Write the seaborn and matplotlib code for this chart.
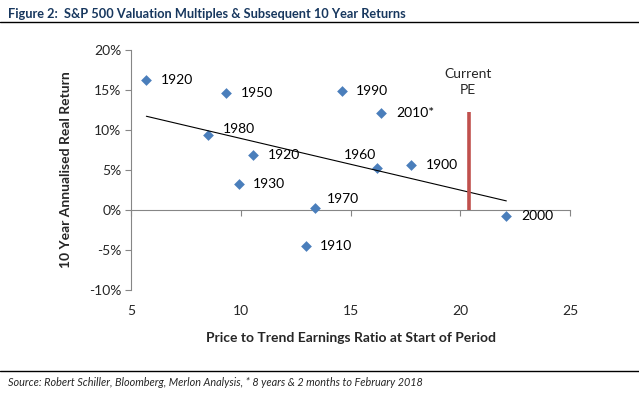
import numpy as np
import matplotlib
matplotlib.use("Agg")
import matplotlib.pyplot as plt
import seaborn as sns
from matplotlib.lines import Line2D
from matplotlib.ticker import FuncFormatter

# data
years = ["1920", "1950", "1980", "1920", "1930", "1970", "1910",
         "1990", "2010*", "1960", "1900", "2000"]
pe = [5.7, 9.35, 8.5, 10.55, 9.9, 13.4, 12.95, 14.6, 16.4, 16.2, 17.75, 22.1]
ret = [16.3, 14.6, 9.4, 6.9, 3.2, 0.3, -4.5, 14.9, 12.1, 5.2, 5.6, -0.8]
current_pe = 20.4
current_top = 12.3

# label offsets in points (dx, dy, ha)
offsets = {2: (10.5, 4.5, "left"), 5: (8, 6, "left"), 9: (-12, 10, "center")}

sns.set_style("white")
plt.rcParams["font.family"] = ["Lato", "DejaVu Sans"]

fig = plt.figure(figsize=(6.39, 3.94), dpi=100)
ax = fig.add_axes([131 / 639, 1 - 290 / 394, 439 / 639, 240 / 394])

blue = "#4A7EBB"
sns.regplot(x=pe, y=ret, ax=ax, ci=None, marker="D",
            scatter_kws=dict(s=30, color=blue, linewidths=0, alpha=1),
            line_kws=dict(color="black", lw=0.8))

for i, (lab, x, y) in enumerate(zip(years, pe, ret)):
    dx, dy, ha = offsets.get(i, (10.5, 0, "left"))
    ax.annotate(lab, (x, y), xytext=(dx, dy), textcoords="offset points",
                ha=ha, va="center", fontsize=10, color="black")

# current PE marker
ax.vlines(current_pe, 0, current_top, color="#C0504D", lw=2.6, zorder=4)
ax.text(current_pe - 0.05, 16.0, "Current\nPE", ha="center", va="center",
        fontsize=10, linespacing=1.35)

ax.set_xlim(5, 25)
ax.set_ylim(-10, 20)
ax.set_xticks([5, 10, 15, 20, 25])
ax.set_yticks([-10, -5, 0, 5, 10, 15, 20])
ax.yaxis.set_major_formatter(FuncFormatter(lambda v, p: "%d%%" % v))

grey = "#868686"
for s in ["top", "right", "bottom"]:
    ax.spines[s].set_visible(False)
ax.spines["left"].set_color(grey)
ax.spines["left"].set_linewidth(0.8)
ax.tick_params(axis="y", left=True, length=4, width=0.8, color=grey,
               labelsize=10, pad=3)
ax.tick_params(axis="x", bottom=True, length=0, labelsize=10, pad=11)

# x axis line crossing at 0%
sec = ax.secondary_xaxis(1 / 3)
sec.set_xticks([5, 10, 15, 20, 25])
sec.tick_params(axis="x", length=4, width=0.8, color=grey, labelbottom=False)
sec.spines["bottom"].set_color(grey)
sec.spines["bottom"].set_linewidth(0.8)

ax.set_ylabel("10 Year Annualised Real Return", fontsize=10, fontweight="bold")
ax.yaxis.set_label_coords(-0.135, 0.5)
ax.set_xlabel("Price to Trend Earnings Ratio at Start of Period",
              fontsize=10, fontweight="bold")
ax.xaxis.set_label_coords(0.5, -0.175)

# title and footer
fig.text(8 / 639, 1 - 14 / 394,
         "Figure 2:  S&P 500 Valuation Multiples & Subsequent 10 Year Returns",
         fontsize=9.2, fontweight="bold", color="#17375E", va="center")
fig.add_artist(Line2D([0, 1], [1 - 22 / 394] * 2, color="black", lw=1))
fig.add_artist(Line2D([0, 1], [1 - 371 / 394] * 2, color="black", lw=1))
fig.text(8 / 639, 1 - 382 / 394,
         "Source: Robert Schiller, Bloomberg, Merlon Analysis, * 8 years & 2 months to February 2018",
         fontsize=7.8, fontstyle="italic", va="center")

fig.savefig("out.png", dpi=100)
